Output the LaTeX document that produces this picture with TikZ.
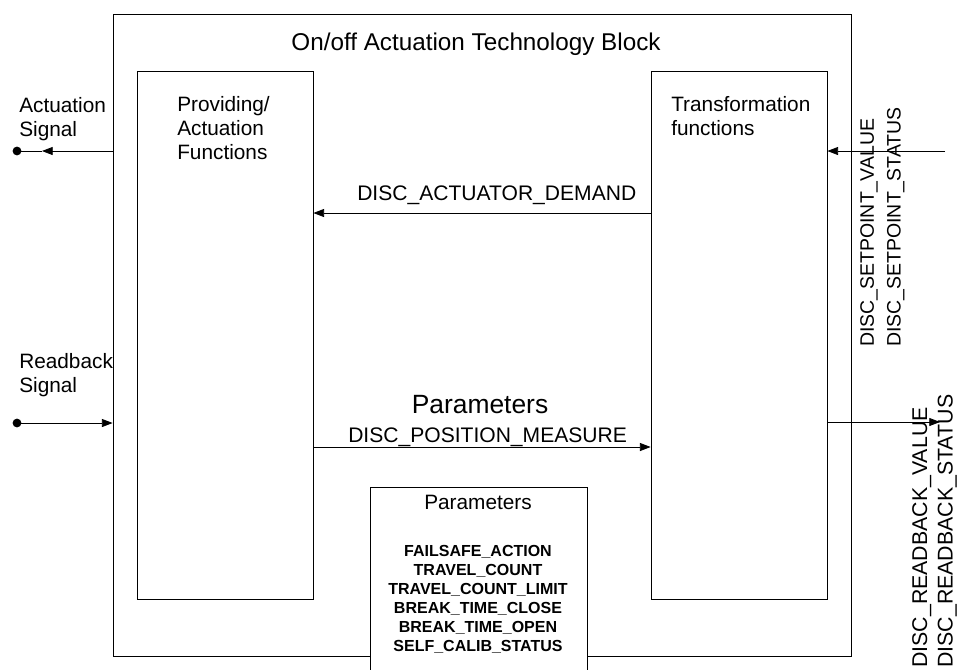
\documentclass[tikz,border=0pt]{standalone}
\usepackage{fontspec}
\setmainfont{Liberation Sans}
\usetikzlibrary{arrows.meta}
\tikzset{
  blk/.style={draw, line width=0.6pt, inner sep=0pt},
  lbl/.style={inner sep=0pt, font=\fontsize{15.6}{18}\selectfont, align=left},
  sig/.style={line width=0.6pt, -{Triangle[length=8pt,width=6pt]}},
}
\begin{document}
\begin{tikzpicture}[x=0.75pt,y=-0.75pt]
\useasboundingbox (0,0) rectangle (957,669);

\node[blk, minimum width=553.5pt, minimum height=481.5pt] (outer) at (482,335) {};
\node[blk, minimum width=132pt, minimum height=396pt] (prov) at (225,335) {};
\node[blk, minimum width=132pt, minimum height=396pt] (trans) at (739,335) {};
\node[blk, fill=white, minimum width=162.75pt, minimum height=152.25pt] (parbox) at (478.5,588.5) {};

\node[lbl, anchor=base, font=\fontsize{18.2}{21}\selectfont] (title) at (476,50) {On/off Actuation Technology Block};
\node[lbl, anchor=north west] (provlbl) at (177,96) {Providing/\\Actuation\\Functions};
\node[lbl, anchor=north west] (translbl) at (671,96) {Transformation\\functions};
\node[lbl, anchor=north west] (actlbl) at (19,97) {Actuation\\Signal};
\node[lbl, anchor=north west] (rblbl) at (19,353) {Readback\\Signal};

\node[lbl, anchor=base west, font=\fontsize{15.8}{18}\selectfont] (demand) at (357,200) {DISC\_ACTUATOR\_DEMAND};
\node[lbl, anchor=base, font=\fontsize{19.8}{22}\selectfont] (params) at (480,413) {Parameters};
\node[lbl, anchor=base west, font=\fontsize{15.8}{18}\selectfont] (posmeas) at (348,442) {DISC\_POSITION\_MEASURE};

\node[lbl, anchor=base] (parttl) at (478,509) {Parameters};
\node[lbl, anchor=north, align=center, font=\fontsize{12}{14.3}\selectfont\bfseries] (parlist) at (478,545)
  {FAILSAFE\_ACTION\\TRAVEL\_COUNT\\TRAVEL\_COUNT\_LIMIT\\BREAK\_TIME\_CLOSE\\BREAK\_TIME\_OPEN\\SELF\_CALIB\_STATUS};

\node[lbl, rotate=90, anchor=north west, font=\fontsize{14.6}{20}\selectfont] (splbl) at (860,347)
  {DISC\_SETPOINT\_VALUE\\DISC\_SETPOINT\_STATUS};
\node[lbl, rotate=90, anchor=north west, font=\fontsize{16}{19}\selectfont] (rbvlbl) at (912,668)
  {DISC\_READBACK\_VALUE\\DISC\_READBACK\_STATUS};

% signals on the left
\coordinate (actdot) at (17,151);
\coordinate (acttip) at (42,151);
\draw[sig] (outer.west |- actdot) -- (acttip);
\draw[line width=0.6pt] (acttip) -- (actdot);
\fill (actdot) circle[radius=3.3pt];

\coordinate (rbdot) at (17,423);
\draw[sig] (rbdot) -- (outer.west |- rbdot);
\fill (rbdot) circle[radius=3.3pt];

% signals on the right
\coordinate (spin) at (945,151);
\draw[sig] (spin) -- (trans.east |- spin);
\coordinate (rbout) at (940,422);
\draw[sig] (trans.east |- rbout) -- (rbout);

% between the blocks
\draw[sig] (trans.west |- 0,213) -- (prov.east |- 0,213);
\draw[sig] (prov.east |- 0,447) -- (trans.west |- 0,447);
\end{tikzpicture}
\end{document}
